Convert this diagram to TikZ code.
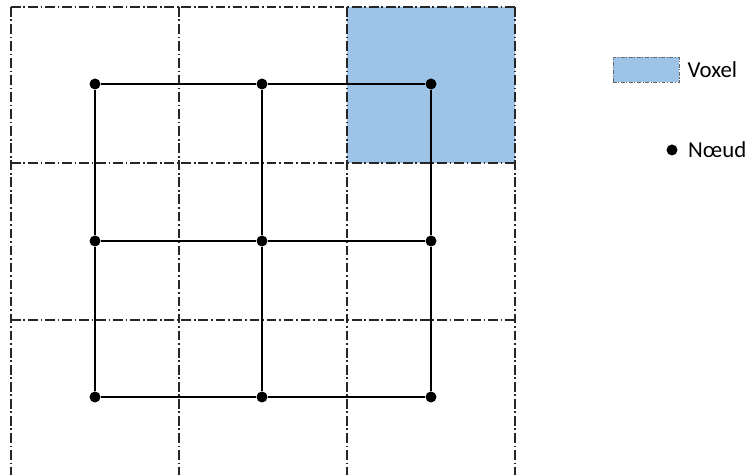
\documentclass[tikz,border=0pt]{standalone}
\usepackage{fontspec}
\setmainfont{Carlito}
\usetikzlibrary{positioning}
\definecolor{voxelblue}{RGB}{157,195,230}
\begin{document}
\begin{tikzpicture}[x=0.02cm, y=-0.02cm,
    gridline/.style={line width=0.7pt, dash pattern=on 5.5pt off 1.6pt on 1pt off 1.6pt, black!85},
    bar/.style={line width=1.6pt},
    noeud/.style={circle, fill=black, inner sep=0pt, minimum size=0.22cm},
    keytext/.style={inner sep=0pt, font=\fontsize{13}{15}\selectfont}]
    \useasboundingbox (0,0) rectangle (748,475);

    % voxel
    \fill[voxelblue] (347,7) rectangle (515,163);

    % dash-dot grid
    \draw[gridline] (11,7) -- (11,475);
    \draw[gridline] (179,7) -- (179,475);
    \draw[gridline] (347,7) -- (347,475);
    \draw[gridline] (515,7) -- (515,475);
    \draw[gridline] (11,7) -- (515,7);
    \draw[gridline] (11,163) -- (515,163);
    \draw[gridline] (11,320) -- (515,320);

    % nodes
    \node[noeud] (n11) at (95,84) {};
    \node[noeud] (n12) at (262,84) {};
    \node[noeud] (n13) at (431,84) {};
    \node[noeud] (n21) at (95,241) {};
    \node[noeud] (n22) at (262,241) {};
    \node[noeud] (n23) at (431,241) {};
    \node[noeud] (n31) at (95,397) {};
    \node[noeud] (n32) at (262,397) {};
    \node[noeud] (n33) at (431,397) {};

    \draw[bar] (n11) -- (n12) -- (n13);
    \draw[bar] (n21) -- (n22) -- (n23);
    \draw[bar] (n31) -- (n32) -- (n33);
    \draw[bar] (n11) -- (n21) -- (n31);
    \draw[bar] (n12) -- (n22) -- (n32);
    \draw[bar] (n13) -- (n23) -- (n33);

    % legend
    \node[draw=black!60, fill=voxelblue, line width=0.4pt, dash pattern=on 2pt off 1pt on 0.6pt off 1pt,
          inner sep=0pt, minimum width=1.32cm, minimum height=0.5cm] (voxkey) at (646,70) {};
    \node[keytext, right=0.16cm of voxkey] (voxlabel) {Voxel};
    \node[noeud] (dotkey) at (672,150) {};
    \node[keytext, right=0.2cm of dotkey] (dotlabel) {Nœud};
\end{tikzpicture}
\end{document}
